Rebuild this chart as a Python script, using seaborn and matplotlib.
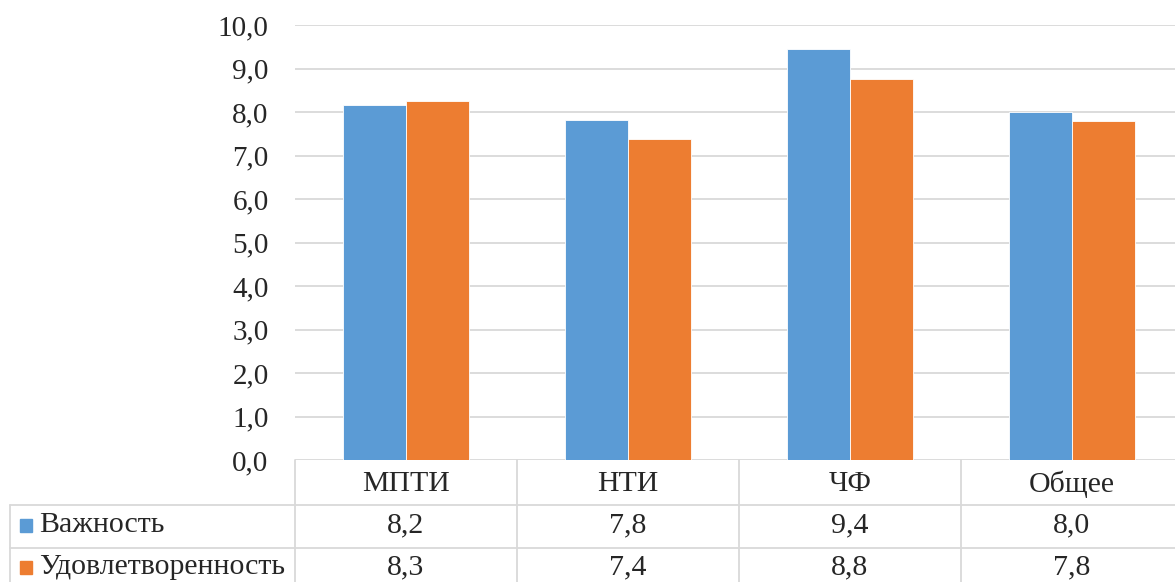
import matplotlib
matplotlib.use("Agg")
import matplotlib.pyplot as plt
import matplotlib.transforms as mtrans
from matplotlib.lines import Line2D
from matplotlib.patches import Rectangle
import seaborn as sns
import pandas as pd

categories = ["МПТИ", "НТИ", "ЧФ", "Общее"]
series_names = ["Важность", "Удовлетворенность"]
importance = [8.16, 7.81, 9.44, 8.00]
satisfaction = [8.26, 7.38, 8.77, 7.79]
yticks = [0, 1, 2, 3, 4, 5, 6, 7, 8, 9, 10]
colors = ["#5B9BD5", "#ED7D31"]

df = pd.DataFrame({
    "cat": categories * 2,
    "val": importance + satisfaction,
    "series": [series_names[0]] * 4 + [series_names[1]] * 4,
})

sns.set_style("white")
plt.rcParams["font.family"] = ["Liberation Serif", "DejaVu Serif"]

W, H = 1175, 582
fig = plt.figure(figsize=(W / 100, H / 100), dpi=100)
left_px, right_px, top_px, bot_px = 295, 1183, 25, 460
ax = fig.add_axes([left_px / W, 1 - bot_px / H, (right_px - left_px) / W, (bot_px - top_px) / H])

sns.barplot(data=df, x="cat", y="val", hue="series", palette=colors, width=0.565,
            saturation=1, ax=ax, legend=False, edgecolor="white", linewidth=0.6)

FS = 21
FT = 21.5
grid_c = "#D9D9D9"
ax.set_ylim(0, 10)
ax.set_xlim(-0.5, len(categories) - 0.5)
ax.set_yticks(yticks)
ax.set_yticklabels([f"{v:.1f}".replace(".", ",") for v in yticks], fontsize=FS)
ax.set_xticks([])
ax.set_xlabel("")
ax.set_ylabel("")
ax.tick_params(axis="y", length=0, pad=19)
ax.yaxis.grid(True, color=grid_c, linewidth=1.3)
ax.set_axisbelow(True)
for s in ax.spines.values():
    s.set_visible(False)

def fy(py):
    return 1 - py / H

blend = mtrans.blended_transform_factory(ax.transData, fig.transFigure)

for i in range(len(categories)):
    fig.add_artist(Line2D([i - 0.5, i - 0.5], [fy(bot_px), fy(600)], transform=blend,
                          color=grid_c, linewidth=1.3, clip_on=False))
fig.add_artist(Line2D([10 / W, 10 / W], [fy(505), fy(600)], transform=fig.transFigure,
                      color=grid_c, linewidth=1.3))
for py in [505, 548]:
    fig.add_artist(Line2D([10 / W, 1.0], [fy(py), fy(py)], transform=fig.transFigure,
                          color=grid_c, linewidth=1.3))

for i, c in enumerate(categories):
    fig.text(i, fy(484), c, transform=blend, ha="center", va="center", fontsize=FT)

rows = [importance, satisfaction]
row_centers = [525, 567]
for vals, name, col, pyc in zip(rows, series_names, colors, row_centers):
    for i, v in enumerate(vals):
        fig.text(i, fy(pyc), f"{v:.1f}".replace(".", ","), transform=blend,
                 ha="center", va="center", fontsize=FT)
    fig.add_artist(Rectangle((20 / W, fy(pyc + 7)), 12 / W, 13 / H,
                             transform=fig.transFigure, color=col))
    fig.text(39 / W, fy(pyc), name, ha="left", va="center", fontsize=FT)

fig.savefig("out.png", dpi=100)
